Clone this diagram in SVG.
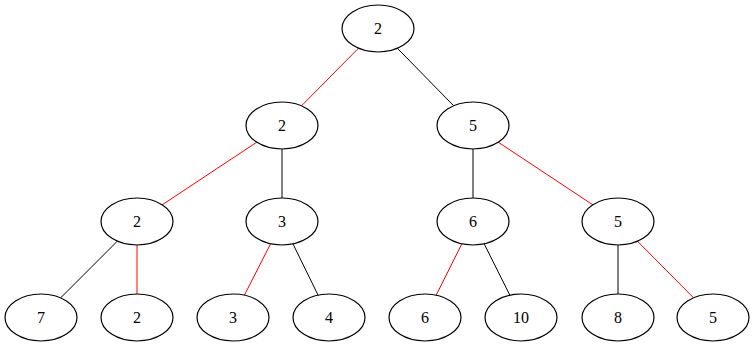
<svg xmlns="http://www.w3.org/2000/svg" width="755" height="347" viewBox="0 0 755 347">
<style>
.n ellipse{fill:#fff;stroke:#000;stroke-width:1.2}
.n text{font-family:"Liberation Serif","Times New Roman",serif;font-size:16px;text-anchor:middle;fill:#000}
.e line{stroke-width:1}
.r{stroke:#ff0000}
.b{stroke:#000}
</style>
<rect width="755" height="347" fill="#fff"/>
<g id="edges" class="e">
<line class="r" x1="378" y1="28.5" x2="282" y2="125.5"/>
<line class="b" x1="378" y1="28.5" x2="473" y2="125.5"/>
<line class="r" x1="282" y1="125.5" x2="137" y2="221.5"/>
<line class="b" x1="282" y1="125.5" x2="282" y2="221.5"/>
<line class="b" x1="473" y1="125.5" x2="473" y2="221.5"/>
<line class="r" x1="473" y1="125.5" x2="618" y2="221.5"/>
<line class="b" x1="137" y1="221.5" x2="41" y2="317.5"/>
<line class="r" x1="137" y1="221.5" x2="137" y2="317.5"/>
<line class="r" x1="282" y1="221.5" x2="233" y2="317.5"/>
<line class="b" x1="282" y1="221.5" x2="329" y2="317.5"/>
<line class="r" x1="473" y1="221.5" x2="425" y2="317.5"/>
<line class="b" x1="473" y1="221.5" x2="521" y2="317.5"/>
<line class="b" x1="618" y1="221.5" x2="618" y2="317.5"/>
<line class="r" x1="618" y1="221.5" x2="713" y2="317.5"/>
</g>
<g id="n0" class="n"><ellipse cx="378" cy="28.5" rx="36" ry="23.5"/><text x="378" y="34.3">2</text></g>
<g id="n1" class="n"><ellipse cx="282" cy="125.5" rx="36" ry="23.5"/><text x="282" y="131.3">2</text></g>
<g id="n2" class="n"><ellipse cx="473" cy="125.5" rx="36" ry="23.5"/><text x="473" y="131.3">5</text></g>
<g id="n3" class="n"><ellipse cx="137" cy="221.5" rx="36" ry="23.5"/><text x="137" y="227.3">2</text></g>
<g id="n4" class="n"><ellipse cx="282" cy="221.5" rx="36" ry="23.5"/><text x="282" y="227.3">3</text></g>
<g id="n5" class="n"><ellipse cx="473" cy="221.5" rx="36" ry="23.5"/><text x="473" y="227.3">6</text></g>
<g id="n6" class="n"><ellipse cx="618" cy="221.5" rx="36" ry="23.5"/><text x="618" y="227.3">5</text></g>
<g id="n7" class="n"><ellipse cx="41" cy="317.5" rx="36" ry="23.5"/><text x="41" y="323.3">7</text></g>
<g id="n8" class="n"><ellipse cx="137" cy="317.5" rx="36" ry="23.5"/><text x="137" y="323.3">2</text></g>
<g id="n9" class="n"><ellipse cx="233" cy="317.5" rx="36" ry="23.5"/><text x="233" y="323.3">3</text></g>
<g id="n10" class="n"><ellipse cx="329" cy="317.5" rx="36" ry="23.5"/><text x="329" y="323.3">4</text></g>
<g id="n11" class="n"><ellipse cx="425" cy="317.5" rx="36" ry="23.5"/><text x="425" y="323.3">6</text></g>
<g id="n12" class="n"><ellipse cx="521" cy="317.5" rx="36" ry="23.5"/><text x="521" y="323.3">10</text></g>
<g id="n13" class="n"><ellipse cx="618" cy="317.5" rx="36" ry="23.5"/><text x="618" y="323.3">8</text></g>
<g id="n14" class="n"><ellipse cx="713" cy="317.5" rx="36" ry="23.5"/><text x="713" y="323.3">5</text></g>
</svg>
